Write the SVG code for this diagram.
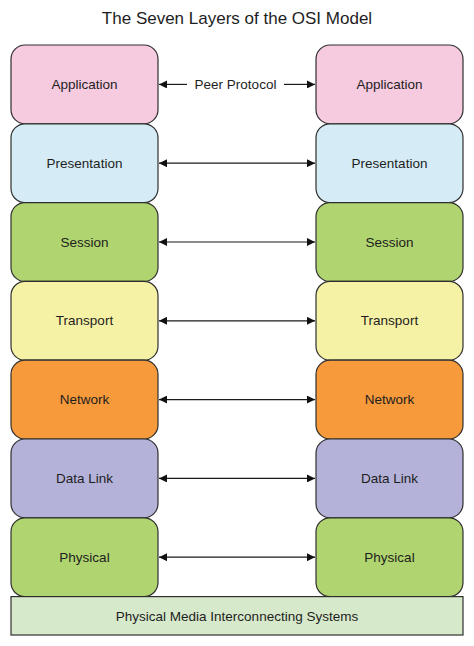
<svg xmlns="http://www.w3.org/2000/svg" width="474" height="646" viewBox="0 0 474 646">
<style>
.box{stroke:#2f2f2f;stroke-width:1.2}
.lbl{font-family:"Liberation Sans",Arial,sans-serif;font-size:13.5px;fill:#1e1e1e;text-anchor:middle;dominant-baseline:central}
.conn{stroke:#1a1a1a;stroke-width:1.2;fill:none}
</style>
<defs>
<marker id="ah" viewBox="0 0 10 10" refX="10" refY="5" markerWidth="8" markerHeight="8" markerUnits="userSpaceOnUse" orient="auto-start-reverse">
<path d="M0,0 L10,5 L0,10 z" fill="#111"/>
</marker>
</defs>
<rect width="474" height="646" fill="#ffffff"/>
<text x="237" y="18" class="lbl" style="font-size:17px">The Seven Layers of the OSI Model</text>

<g id="left-application"><rect class="box" x="11" y="45" width="147" height="78.8" rx="14" fill="#f6cadf"/><text class="lbl" x="84.5" y="84.4">Application</text></g>
<g id="left-presentation"><rect class="box" x="11" y="123.8" width="147" height="78.8" rx="14" fill="#d5ebf5"/><text class="lbl" x="84.5" y="163.2">Presentation</text></g>
<g id="left-session"><rect class="box" x="11" y="202.6" width="147" height="78.8" rx="14" fill="#b0d46f"/><text class="lbl" x="84.5" y="242">Session</text></g>
<g id="left-transport"><rect class="box" x="11" y="281.4" width="147" height="78.8" rx="14" fill="#f5f2a5"/><text class="lbl" x="84.5" y="320.8">Transport</text></g>
<g id="left-network"><rect class="box" x="11" y="360.2" width="147" height="78.8" rx="14" fill="#f69a3b"/><text class="lbl" x="84.5" y="399.6">Network</text></g>
<g id="left-datalink"><rect class="box" x="11" y="439" width="147" height="78.8" rx="14" fill="#b4b2d9"/><text class="lbl" x="84.5" y="478.4">Data Link</text></g>
<g id="left-physical"><rect class="box" x="11" y="517.8" width="147" height="78.8" rx="14" fill="#b0d46f"/><text class="lbl" x="84.5" y="557.2">Physical</text></g>

<g id="right-application"><rect class="box" x="316" y="45" width="147" height="78.8" rx="14" fill="#f6cadf"/><text class="lbl" x="389.5" y="84.4">Application</text></g>
<g id="right-presentation"><rect class="box" x="316" y="123.8" width="147" height="78.8" rx="14" fill="#d5ebf5"/><text class="lbl" x="389.5" y="163.2">Presentation</text></g>
<g id="right-session"><rect class="box" x="316" y="202.6" width="147" height="78.8" rx="14" fill="#b0d46f"/><text class="lbl" x="389.5" y="242">Session</text></g>
<g id="right-transport"><rect class="box" x="316" y="281.4" width="147" height="78.8" rx="14" fill="#f5f2a5"/><text class="lbl" x="389.5" y="320.8">Transport</text></g>
<g id="right-network"><rect class="box" x="316" y="360.2" width="147" height="78.8" rx="14" fill="#f69a3b"/><text class="lbl" x="389.5" y="399.6">Network</text></g>
<g id="right-datalink"><rect class="box" x="316" y="439" width="147" height="78.8" rx="14" fill="#b4b2d9"/><text class="lbl" x="389.5" y="478.4">Data Link</text></g>
<g id="right-physical"><rect class="box" x="316" y="517.8" width="147" height="78.8" rx="14" fill="#b0d46f"/><text class="lbl" x="389.5" y="557.2">Physical</text></g>

<g id="media"><rect x="11" y="596.6" width="452" height="38.4" fill="#d7e9cb" stroke="#2f2f2f" stroke-width="1.2"/><text class="lbl" x="237" y="616">Physical Media Interconnecting Systems</text></g>

<g id="connectors">
<line class="conn" x1="187" y1="84.4" x2="159" y2="84.4" marker-end="url(#ah)"/>
<line class="conn" x1="284" y1="84.4" x2="315" y2="84.4" marker-end="url(#ah)"/>
<text class="lbl" x="235.5" y="84.4">Peer Protocol</text>
<line class="conn" x1="159" y1="163.2" x2="315" y2="163.2" marker-start="url(#ah)" marker-end="url(#ah)"/>
<line class="conn" x1="159" y1="242" x2="315" y2="242" marker-start="url(#ah)" marker-end="url(#ah)"/>
<line class="conn" x1="159" y1="320.8" x2="315" y2="320.8" marker-start="url(#ah)" marker-end="url(#ah)"/>
<line class="conn" x1="159" y1="399.6" x2="315" y2="399.6" marker-start="url(#ah)" marker-end="url(#ah)"/>
<line class="conn" x1="159" y1="478.4" x2="315" y2="478.4" marker-start="url(#ah)" marker-end="url(#ah)"/>
<line class="conn" x1="159" y1="557.2" x2="315" y2="557.2" marker-start="url(#ah)" marker-end="url(#ah)"/>
</g>
</svg>
